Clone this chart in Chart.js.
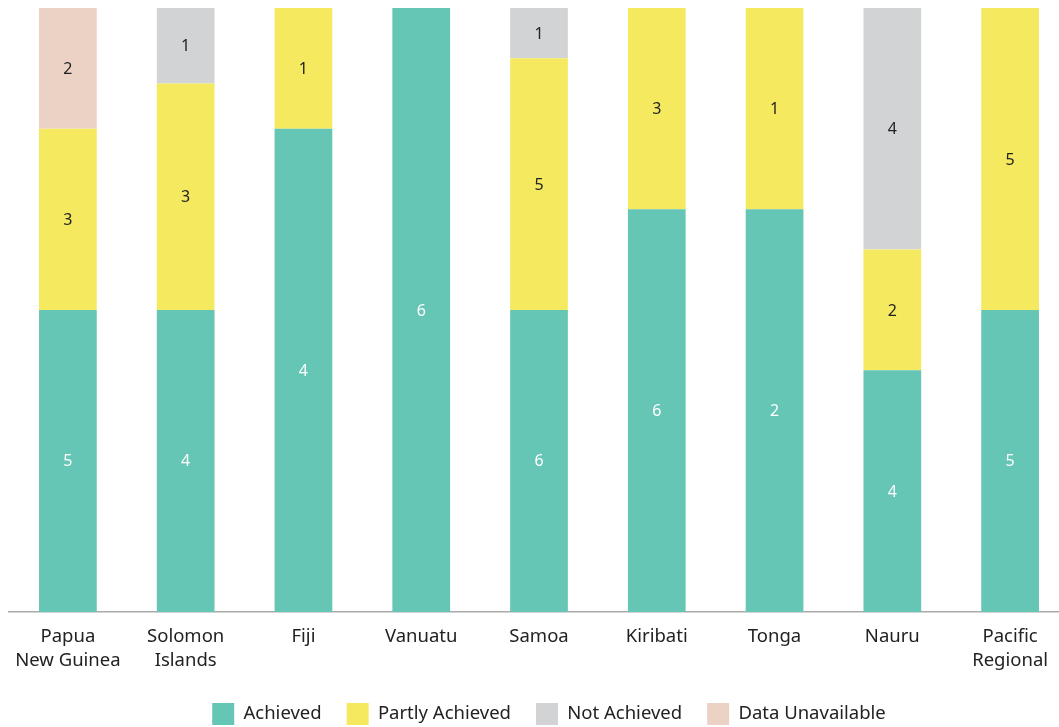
<!DOCTYPE html>
<html>
<head>
<meta charset="utf-8">
<script src="https://cdn.jsdelivr.net/npm/chart.js@4"></script>
<style>
  html, body { margin: 0; padding: 0; background: #fff; overflow: hidden; }
  #wrap { width: 1069px; height: 735px; }
</style>
</head>
<body>
<div id="wrap"><canvas id="chart"></canvas></div>
<script>
// Datos (conteos por país)
const countries = [['Papua', 'New Guinea'], ['Solomon', 'Islands'], 'Fiji', 'Vanuatu', 'Samoa', 'Kiribati', 'Tonga', 'Nauru', ['Pacific', 'Regional']];
const achieved = [5, 4, 4, 6, 6, 6, 2, 4, 5];
const partlyAchieved = [3, 3, 1, 0, 5, 3, 1, 2, 5];
const notAchieved = [0, 1, 0, 0, 1, 0, 0, 4, 0];
const dataUnavailable = [2, 0, 0, 0, 0, 0, 0, 0, 0];

const seriesNames = ['Achieved', 'Partly Achieved', 'Not Achieved', 'Data Unavailable'];
const seriesColors = ['#66c6b5', '#f5ea5f', '#d2d3d5', '#ecd2c5'];
const labelColors = ['#ffffff', '#222222', '#222222', '#222222'];

const allCounts = [achieved, partlyAchieved, notAchieved, dataUnavailable];
const totals = countries.map((c, i) => allCounts.reduce((s, arr) => s + arr[i], 0));

const fontFamily = '"Noto Sans", sans-serif';

// Etiquetas dentro de cada segmento
const segmentLabels = {
    id: 'segmentLabels',
    afterDatasetsDraw(chart) {
        const ctx = chart.ctx;
        ctx.save();
        ctx.font = '16px ' + fontFamily;
        ctx.textAlign = 'center';
        ctx.textBaseline = 'middle';
        chart.data.datasets.forEach((ds, di) => {
            const meta = chart.getDatasetMeta(di);
            meta.data.forEach((bar, i) => {
                const count = ds.counts[i];
                if (!count) return;
                ctx.fillStyle = labelColors[di];
                ctx.fillText(String(count), bar.x, (bar.y + bar.base) / 2 + 1);
            });
        });
        ctx.restore();
    }
};

// La leyenda del original está algo desplazada a la derecha
const legendShift = {
    id: 'legendShift',
    afterLayout(chart) {
        chart.legend.left += 10;
        chart.legend.right += 10;
    }
};

new Chart(document.getElementById('chart'), {
    type: 'bar',
    data: {
        labels: countries,
        datasets: allCounts.map((arr, di) => ({
            label: seriesNames[di],
            counts: arr,
            data: arr.map((v, i) => v / totals[i] * 100),
            backgroundColor: seriesColors[di],
            borderWidth: 0,
            barPercentage: 0.49,
            categoryPercentage: 1
        }))
    },
    options: {
        responsive: true,
        maintainAspectRatio: false,
        animation: false,
        layout: { padding: { left: 9, top: 8, right: 0, bottom: 0 } },
        plugins: {
            legend: {
                position: 'bottom',
                labels: {
                    boxWidth: 22,
                    boxHeight: 22,
                    padding: 25,
                    color: '#222',
                    font: { family: fontFamily, size: 18.5 }
                }
            },
            tooltip: { enabled: false }
        },
        scales: {
            x: {
                stacked: true,
                grid: { display: false },
                border: { display: true, color: '#aaaaaa', width: 1.5 },
                ticks: {
                    color: '#222',
                    padding: 5,
                    maxRotation: 0,
                    font: { family: fontFamily, size: 18.5, lineHeight: 1.3 }
                }
            },
            y: {
                stacked: true,
                display: false,
                min: 0,
                max: 100
            }
        }
    },
    plugins: [segmentLabels, legendShift]
});
</script>
</body>
</html>
